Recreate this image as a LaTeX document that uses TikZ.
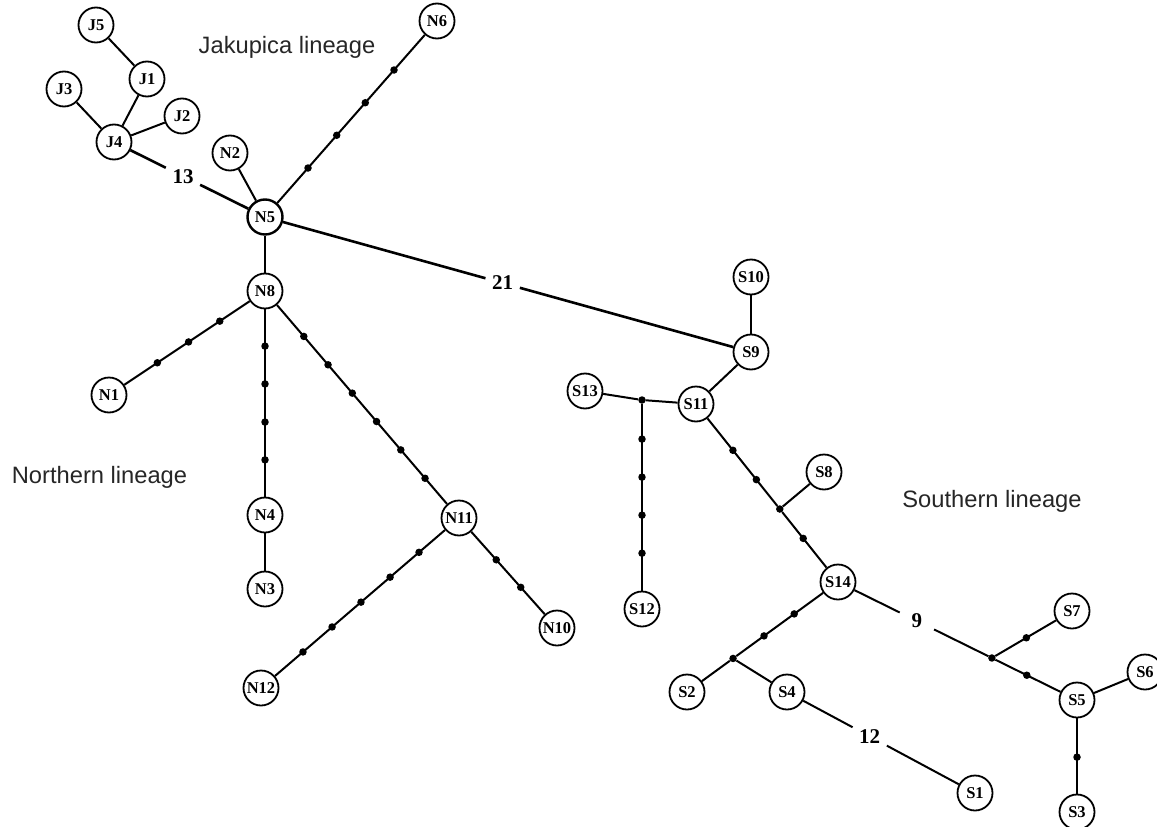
\documentclass[tikz,border=0pt]{standalone}
\usepackage{fontspec}
\setmainfont{Liberation Serif}
\newfontfamily\sanslabel{Liberation Sans}
\usetikzlibrary{calc}
\begin{document}
\begin{tikzpicture}[x=1pt,y=-1pt,
  hap/.style={circle,draw,line width=1.8pt,minimum size=35pt,inner sep=0pt,
              font=\fontsize{16.5}{18}\selectfont\bfseries},
  mv/.style={circle,fill,inner sep=0pt,minimum size=7.5pt},
  link/.style={line width=2pt},
  longlink/.style={line width=2.6pt},
  steps/.style={rectangle,inner sep=0pt,minimum width=34pt,minimum height=18pt,
                font=\fontsize{21}{23}\selectfont\bfseries},
  lineage/.style={font=\sanslabel\fontsize{23.7}{26}\selectfont,text=black!85,anchor=base}]
\useasboundingbox (0,0) rectangle (1157,827);

% lineage labels
\node[lineage] (tJ) at (287,53) {Jakupica lineage};
\node[lineage] (tN) at (99.5,483) {Northern lineage};
\node[lineage] (tS) at (992,507) {Southern lineage};

% Jakupica haplotypes
\node[hap] (J5) at (96,25) {J5};
\node[hap] (J1) at (147,79) {J1};
\node[hap] (J3) at (64,89) {J3};
\node[hap] (J2) at (182,116) {J2};
\node[hap] (J4) at (114,142) {J4};

% Northern haplotypes
\node[hap] (N2) at (230,153) {N2};
\node[hap,line width=2.4pt] (N5) at (265,217) {N5};
\node[hap] (N6) at (437,21) {N6};
\node[hap] (N8) at (265,291) {N8};
\node[hap] (N1) at (109,395) {N1};
\node[hap] (N4) at (265,515) {N4};
\node[hap] (N3) at (265,589) {N3};
\node[hap] (N11) at (459,518) {N11};
\node[hap] (N12) at (261,688) {N12};
\node[hap] (N10) at (557,628) {N10};

% Southern haplotypes
\node[hap] (S10) at (751,277) {S10};
\node[hap] (S9) at (751,352) {S9};
\node[hap] (S13) at (585,391) {S13};
\node[hap] (S11) at (696,404) {S11};
\node[hap] (S12) at (642,609) {S12};
\node[hap] (S8) at (824,472) {S8};
\node[hap] (S14) at (838,582) {S14};
\node[hap] (S2) at (687,692) {S2};
\node[hap] (S4) at (787,692) {S4};
\node[hap] (S1) at (975,793) {S1};
\node[hap] (S7) at (1072,611) {S7};
\node[hap] (S5) at (1077,700) {S5};
\node[hap] (S6) at (1145,672) {S6};
\node[hap] (S3) at (1077,812) {S3};

% median vectors at branch points
\node[mv] (j1) at (642,400) {};
\node[mv] (j2) at ($(S11)!0.59!(S14)$) {};
\node[mv] (j3) at ($(S14)!0.695!(S2)$) {};
\node[mv] (j4) at ($(S14)!0.644!(S5)$) {};

% mutation-step labels
\node[steps] (g13) at ($(J4)!0.457!(N5)$) {13};
\node[steps] (g21) at ($(N5)!0.489!(S9)$) {21};
\node[steps] (g9) at ($(S14)!0.33!(S5)$) {9};
\node[steps] (g12) at ($(S4)!0.44!(S1)$) {12};

% plain connections
\draw[link] (J5) -- (J1);
\draw[link] (J1) -- (J4);
\draw[link] (J3) -- (J4);
\draw[link] (J2) -- (J4);
\draw[link] (N2) -- (N5);
\draw[link] (N5) -- (N8);
\draw[link] (N4) -- (N3);
\draw[link] (S10) -- (S9);
\draw[link] (S9) -- (S11);
\draw[link] (S5) -- (S6);
\draw[link] (j2) -- (S8);
\draw[link] (j3) -- (S4);
\draw[link] (S13) -- (j1);
\draw[link] (j1) -- (S11);

% long connections broken by step counts
\draw[longlink] (J4) -- (g13);
\draw[longlink] (g13) -- (N5);
\draw[longlink] (N5) -- (g21);
\draw[longlink] (g21) -- (S9);
\draw[link] (S14) -- (g9);
\draw[link] (g9) -- (j4);
\draw[link] (j4) -- (S5);
\draw[link] (S4) -- (g12);
\draw[link] (g12) -- (S1);

% connections carrying missing intermediates
\draw[link] (N5) -- (N6);
\foreach \f [count=\i] in {0.25,0.417,0.583,0.75}
  \node[mv] (a\i) at ($(N5)!\f!(N6)$) {};
\draw[link] (N8) -- (N1);
\foreach \f [count=\i] in {0.29,0.49,0.69}
  \node[mv] (b\i) at ($(N8)!\f!(N1)$) {};
\draw[link] (N8) -- (N4);
\foreach \f [count=\i] in {0.246,0.415,0.585,0.754}
  \node[mv] (c\i) at ($(N8)!\f!(N4)$) {};
\draw[link] (N8) -- (N11);
\foreach \f [count=\i] in {0.2,0.325,0.45,0.575,0.7,0.825}
  \node[mv] (d\i) at ($(N8)!\f!(N11)$) {};
\draw[link] (N11) -- (N12);
\foreach \f [count=\i] in {0.202,0.348,0.495,0.641,0.788}
  \node[mv] (e\i) at ($(N11)!\f!(N12)$) {};
\draw[link] (N11) -- (N10);
\foreach \f [count=\i] in {0.38,0.63}
  \node[mv] (f\i) at ($(N11)!\f!(N10)$) {};
\draw[link] (j1) -- (S12);
\foreach \f [count=\i] in {0.187,0.369,0.551,0.733}
  \node[mv] (g\i) at ($(j1)!\f!(S12)$) {};
\draw[link] (S11) -- (j2);
\draw[link] (j2) -- (S14);
\foreach \f [count=\i] in {0.26,0.425,0.755}
  \node[mv] (h\i) at ($(S11)!\f!(S14)$) {};
\draw[link] (S14) -- (j3);
\draw[link] (j3) -- (S2);
\foreach \f [count=\i] in {0.29,0.49}
  \node[mv] (k\i) at ($(S14)!\f!(S2)$) {};
\node[mv] (m1) at ($(S14)!0.79!(S5)$) {};
\draw[link] (j4) -- (S7);
\node[mv] (m2) at ($(j4)!0.43!(S7)$) {};
\draw[link] (S5) -- (S3);
\node[mv] (m3) at ($(S5)!0.51!(S3)$) {};
\end{tikzpicture}
\end{document}
